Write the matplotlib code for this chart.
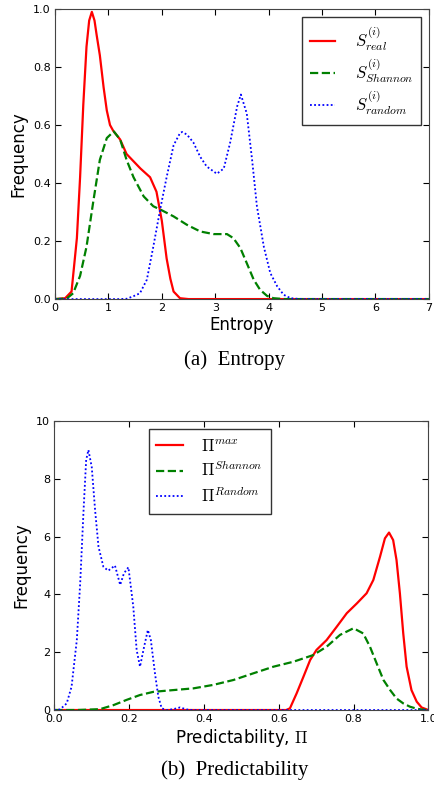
import numpy as np
import matplotlib
matplotlib.use('Agg')
import matplotlib.pyplot as plt

plt.rcParams['mathtext.fontset'] = 'cm'
plt.rcParams['font.family'] = 'DejaVu Sans'

# --- (a) Entropy: values ---
ent_real_x = [0.0, 0.19, 0.31, 0.41, 0.47, 0.53, 0.59, 0.64, 0.69, 0.74, 0.78,
              0.84, 0.91, 0.97, 1.03, 1.09, 1.22, 1.34, 1.47, 1.6, 1.78, 1.9,
              2.0, 2.09, 2.16, 2.22, 2.34, 2.5, 7.0]
ent_real_y = [0.0, 0.003, 0.026, 0.21, 0.42, 0.67, 0.87, 0.96, 0.99, 0.96, 0.91,
              0.84, 0.73, 0.65, 0.60, 0.58, 0.55, 0.50, 0.475, 0.45, 0.42, 0.37,
              0.27, 0.14, 0.07, 0.026, 0.003, 0.0, 0.0]

ent_shannon_x = [0.0, 0.22, 0.34, 0.47, 0.59, 0.72, 0.84, 0.97, 1.1, 1.22, 1.34,
                 1.47, 1.66, 1.84, 2.0, 2.22, 2.47, 2.72, 2.97, 3.22, 3.34, 3.47,
                 3.59, 3.72, 3.84, 3.97, 4.09, 4.3, 7.0]
ent_shannon_y = [0.0, 0.002, 0.02, 0.08, 0.18, 0.34, 0.48, 0.555, 0.578, 0.55,
                 0.48, 0.42, 0.354, 0.32, 0.306, 0.285, 0.256, 0.233, 0.224,
                 0.224, 0.21, 0.176, 0.124, 0.067, 0.032, 0.011, 0.003, 0.0, 0.0]

ent_random_x = [0.0, 1.2, 1.34, 1.47, 1.59, 1.72, 1.84, 1.97, 2.09, 2.22, 2.34,
                2.38, 2.47, 2.59, 2.72, 2.84, 3.03, 3.16, 3.28, 3.41, 3.48, 3.59,
                3.69, 3.78, 3.91, 4.03, 4.16, 4.28, 4.41, 4.6, 7.0]
ent_random_y = [0.0, 0.0, 0.001, 0.01, 0.02, 0.067, 0.18, 0.31, 0.42, 0.53, 0.572,
                0.576, 0.567, 0.54, 0.49, 0.457, 0.432, 0.45, 0.54, 0.664, 0.705,
                0.64, 0.48, 0.32, 0.18, 0.09, 0.044, 0.015, 0.003, 0.0, 0.0]

# --- (b) Predictability: values ---
pred_max_x = [0.0, 0.62, 0.63, 0.648, 0.666, 0.684, 0.701, 0.728, 0.755, 0.782,
              0.809, 0.835, 0.853, 0.871, 0.884, 0.895, 0.906, 0.915, 0.924,
              0.933, 0.942, 0.955, 0.969, 0.982, 0.996, 1.0]
pred_max_y = [0.0, 0.0, 0.06, 0.58, 1.15, 1.73, 2.08, 2.42, 2.88, 3.35, 3.69,
              4.04, 4.5, 5.31, 5.94, 6.14, 5.88, 5.19, 4.04, 2.65, 1.5, 0.69,
              0.29, 0.09, 0.02, 0.0]

pred_shannon_x = [0.0, 0.06, 0.122, 0.158, 0.193, 0.229, 0.265, 0.318, 0.372,
                  0.425, 0.479, 0.532, 0.586, 0.639, 0.692, 0.728, 0.764, 0.8,
                  0.826, 0.844, 0.862, 0.88, 0.898, 0.915, 0.933, 0.951, 0.969,
                  0.987, 1.0]
pred_shannon_y = [0.0, 0.0, 0.03, 0.17, 0.35, 0.52, 0.63, 0.69, 0.75, 0.87, 1.04,
                  1.27, 1.5, 1.67, 1.9, 2.19, 2.6, 2.83, 2.65, 2.19, 1.61, 1.04,
                  0.69, 0.4, 0.23, 0.115, 0.046, 0.01, 0.0]

pred_random_x = [0.0, 0.015, 0.033, 0.046, 0.06, 0.069, 0.078, 0.085, 0.091, 0.1,
                 0.109, 0.118, 0.131, 0.144, 0.162, 0.176, 0.186, 0.198, 0.211,
                 0.22, 0.229, 0.24, 0.25, 0.258, 0.269, 0.278, 0.287, 0.3, 0.318,
                 0.336, 0.354, 0.37, 1.0]
pred_random_y = [0.0, 0.02, 0.23, 0.81, 2.42, 4.38, 6.9, 8.65, 9.0, 8.4, 6.9,
                 5.65, 4.96, 4.82, 5.0, 4.33, 4.73, 4.94, 3.58, 2.08, 1.5, 2.19,
                 2.77, 2.42, 1.27, 0.46, 0.06, 0.0, 0.03, 0.09, 0.02, 0.0, 0.0]

DOT = (0, (1, 1.3))


def style_axes(ax):
    ax.tick_params(direction='in', top=True, right=True, labelsize=8,
                   length=4, pad=3)
    for s in ax.spines.values():
        s.set_color('#444444')


def style_legend(leg):
    leg.get_frame().set_edgecolor('#333333')
    leg.get_frame().set_linewidth(1.0)


fig = plt.figure(figsize=(4.35, 7.85), dpi=100)

ax1 = fig.add_axes([0.1264, 0.619, 0.8596, 0.3696])
ax1.plot(ent_real_x, ent_real_y, 'r-', lw=1.6, label=r'$S^{(i)}_{real}$')
ax1.plot(ent_shannon_x, ent_shannon_y, color='g', ls='--', lw=1.6,
         label=r'$S^{(i)}_{Shannon}$')
ax1.plot(ent_random_x, ent_random_y, color='b', ls=DOT, lw=1.3,
         label=r'$S^{(i)}_{random}$')
ax1.set_xlim(0, 7)
ax1.set_ylim(0, 1.0)
ax1.set_xticks(range(8))
ax1.set_yticks([0.0, 0.2, 0.4, 0.6, 0.8, 1.0])
ax1.set_xlabel('Entropy', fontsize=12, labelpad=2)
ax1.set_ylabel('Frequency', fontsize=12, labelpad=4)
style_axes(ax1)
leg1 = ax1.legend(loc='upper right', bbox_to_anchor=(0.978, 0.972),
                  fontsize=12, fancybox=False, handlelength=1.5,
                  handletextpad=1.2, borderpad=0.45, labelspacing=0.22,
                  framealpha=1, borderaxespad=0)
style_legend(leg1)

ax2 = fig.add_axes([0.125, 0.0955, 0.8596, 0.3682])
ax2.plot(pred_max_x, pred_max_y, 'r-', lw=1.6, label=r'$\Pi^{max}$')
ax2.plot(pred_shannon_x, pred_shannon_y, color='g', ls='--', lw=1.6,
         label=r'$\Pi^{Shannon}$')
ax2.plot(pred_random_x, pred_random_y, color='b', ls=DOT, lw=1.3,
         label=r'$\Pi^{Random}$')
ax2.set_xlim(0, 1.0)
ax2.set_ylim(0, 10)
ax2.set_xticks([0.0, 0.2, 0.4, 0.6, 0.8, 1.0])
ax2.set_yticks([0, 2, 4, 6, 8, 10])
ax2.set_xlabel(r'Predictability, $\Pi$', fontsize=12, labelpad=2)
ax2.set_ylabel('Frequency', fontsize=12, labelpad=4)
style_axes(ax2)
leg2 = ax2.legend(loc='upper left', bbox_to_anchor=(0.253, 0.972),
                  fontsize=12, fancybox=False, handlelength=1.6,
                  handletextpad=1.1, borderpad=0.45, labelspacing=0.38,
                  framealpha=1, borderaxespad=0)
style_legend(leg2)

fig.text(0.54, 0.541, '(a)  Entropy', ha='center', va='center',
         family='Liberation Serif', fontsize=15)
fig.text(0.54, 0.019, '(b)  Predictability', ha='center', va='center',
         family='Liberation Serif', fontsize=15)

fig.savefig('out.png', dpi=100, facecolor='white')
